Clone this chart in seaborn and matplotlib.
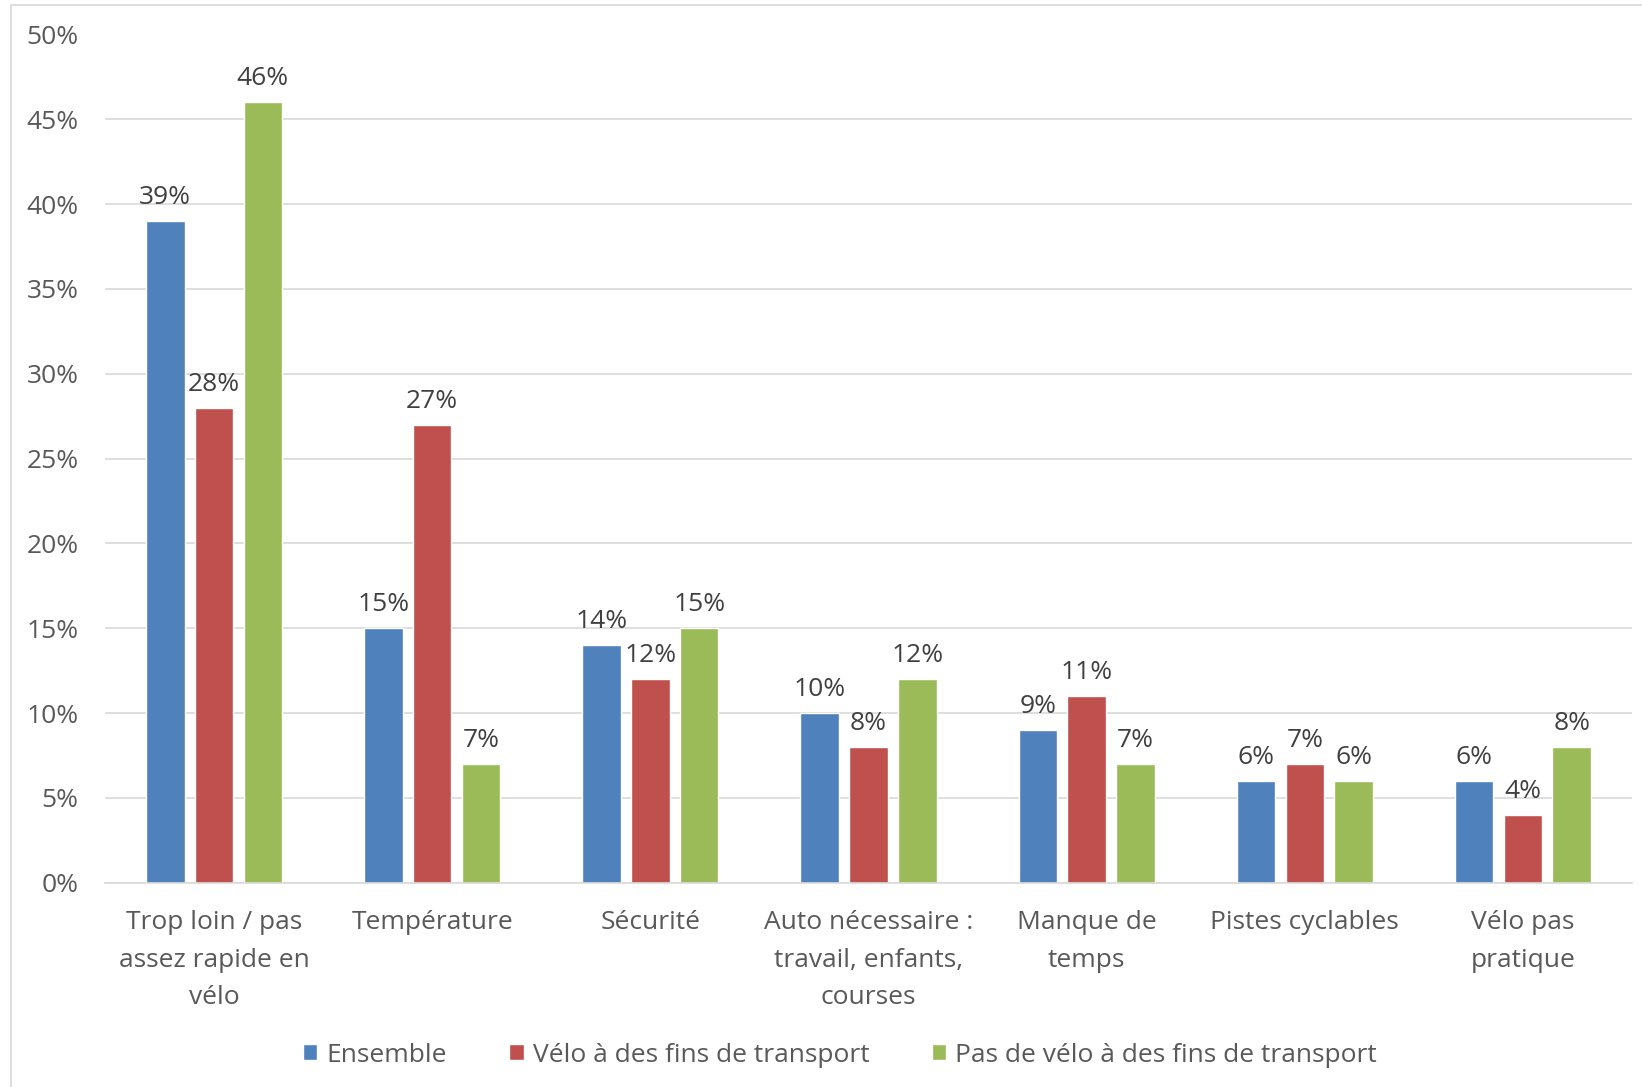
import matplotlib
matplotlib.use("Agg")
import matplotlib.pyplot as plt
import seaborn as sns
import pandas as pd
from matplotlib.patches import Rectangle
from matplotlib.ticker import FuncFormatter

categories = ["Trop loin / pas\nassez rapide en\nvélo", "Température", "Sécurité",
              "Auto nécessaire :\ntravail, enfants,\ncourses", "Manque de\ntemps",
              "Pistes cyclables", "Vélo pas\npratique"]
series = ["Ensemble", "Vélo à des fins de transport", "Pas de vélo à des fins de transport"]
ensemble = [39, 15, 14, 10, 9, 6, 6]
velo = [28, 27, 12, 8, 11, 7, 4]
pas_velo = [46, 7, 15, 12, 7, 6, 8]
colors = ["#4F81BD", "#C0504D", "#9BBB59"]
yticks = [0, 5, 10, 15, 20, 25, 30, 35, 40, 45, 50]

rows = []
for s, vals in zip(series, [ensemble, velo, pas_velo]):
    for c, v in zip(categories, vals):
        rows.append({"cat": c, "serie": s, "val": v})
df = pd.DataFrame(rows)

sns.set_theme(style="white")
plt.rcParams["font.family"] = ["Open Sans", "DejaVu Sans"]
txt = "#595959"
fs = 19

fig = plt.figure(figsize=(16.42, 10.87), dpi=100)
ax = fig.add_axes([105/1642, 1-882.7/1087, (1632-105)/1642, (882.7-34.5)/1087])

sns.barplot(data=df, x="cat", y="val", hue="serie", palette=colors, ax=ax,
            width=0.671, gap=0.21, order=categories, hue_order=series,
            saturation=1, legend=True)

ax.set_ylim(0, 50)
ax.set_xlim(-0.5, len(categories) - 0.5)
ax.set_yticks(yticks)
ax.yaxis.set_major_formatter(FuncFormatter(lambda v, p: f"{int(v)}%"))
ax.grid(axis="y", color="#D9D9D9", linewidth=1.2)
ax.set_axisbelow(True)
for sp in ["left", "right", "top"]:
    ax.spines[sp].set_visible(False)
ax.spines["bottom"].set_color("#D9D9D9")
ax.spines["bottom"].set_linewidth(1.2)
ax.tick_params(axis="both", length=0, labelsize=fs, colors=txt)
ax.tick_params(axis="y", pad=19)
ax.tick_params(axis="x", pad=20)
for lab in ax.get_xticklabels():
    lab.set_linespacing(1.64)
ax.set_xlabel("")
ax.set_ylabel("")

for cont in ax.containers:
    ax.bar_label(cont, fmt="%d%%", padding=8, fontsize=fs, color="#404040")

handles, labels = ax.get_legend_handles_labels()
ax.legend_.remove()
fig.legend(handles, labels, loc="center", bbox_to_anchor=(840/1642, 1-1055/1087),
           ncol=3, frameon=False, fontsize=fs, labelcolor=txt,
           handlelength=0.55, handleheight=0.55, handletextpad=0.35, columnspacing=2.35)

fig.patches.append(Rectangle((11/1642, -0.1), 1.2, 1 - 5/1087 + 0.1, transform=fig.transFigure,
                             fill=False, edgecolor="#D9D9D9", linewidth=1.2, zorder=-1))

fig.savefig("out.png", dpi=100, facecolor="white")
